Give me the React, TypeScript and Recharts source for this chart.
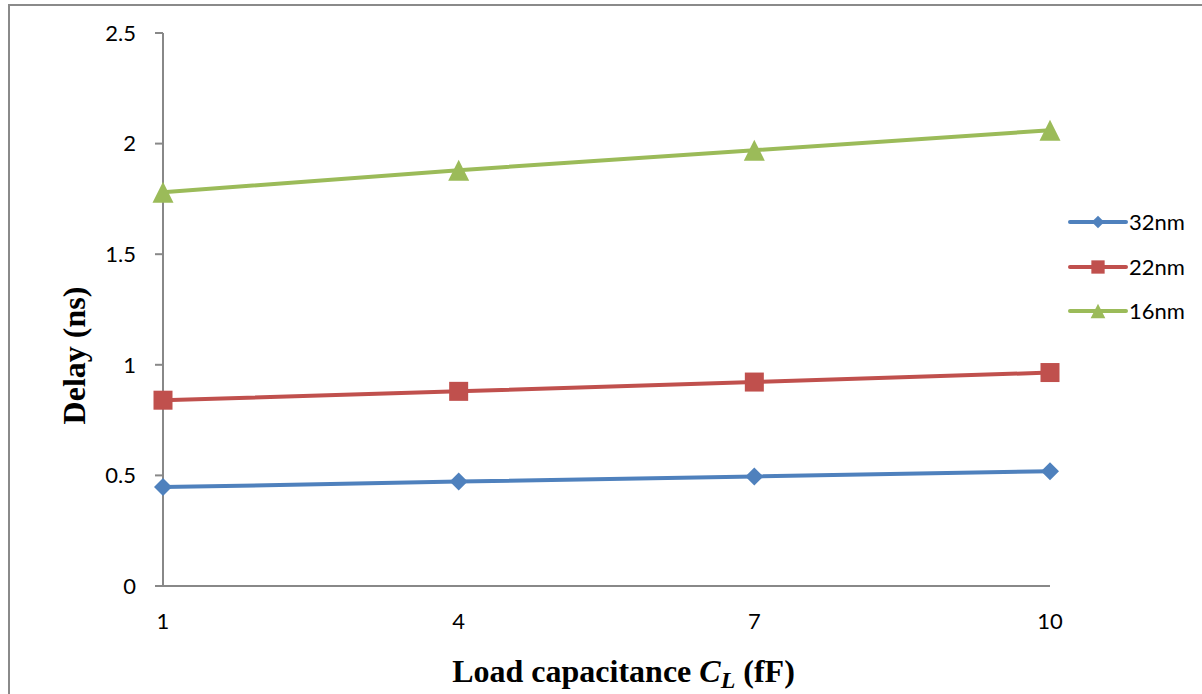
import React from 'react';
import { LineChart, Line, XAxis, YAxis, Legend, Label } from 'recharts';

// Load capacitance categories (fF)
const loads = ['1', '4', '7', '10'];
// Delay (ns) for each technology node
const delay32nm = [0.447, 0.472, 0.495, 0.519];
const delay22nm = [0.84, 0.88, 0.922, 0.965];
const delay16nm = [1.78, 1.88, 1.97, 2.06];
const delayTicks = [0, 0.5, 1, 1.5, 2, 2.5];

const seriesNames = ['32nm', '22nm', '16nm'];
const seriesKeys = ['n32', 'n22', 'n16'];
const seriesColors = ['#4F81BD', '#C0504D', '#9BBB59'];
const seriesShapes = ['diamond', 'square', 'triangle'];

const data = loads.map((load, i) => ({
  load,
  n32: delay32nm[i],
  n22: delay22nm[i],
  n16: delay16nm[i],
}));

const AXIS_COLOR = '#888888';
const TICK_FONT = 'Lato, "Open Sans", sans-serif';
const TICK_SIZE = 22;
const TITLE_FONT = '"Liberation Serif", "Times New Roman", serif';

function Marker({ shape, cx, cy, color }: { shape: string; cx: number; cy: number; color: string }) {
  if (cx == null || cy == null) return null;
  if (shape === 'diamond') {
    const r = 9;
    return <polygon points={`${cx},${cy - r} ${cx + r},${cy} ${cx},${cy + r} ${cx - r},${cy}`} fill={color} />;
  }
  if (shape === 'square') {
    const h = 9.5;
    return <rect x={cx - h} y={cy - h} width={h * 2} height={h * 2} fill={color} />;
  }
  const t = 10.5;
  return <polygon points={`${cx},${cy - t} ${cx + t},${cy + t} ${cx - t},${cy + t}`} fill={color} />;
}

function makeDot(idx: number) {
  return (p: any) => (
    <Marker key={`dot-${idx}-${p.index}`} shape={seriesShapes[idx]} cx={p.cx} cy={p.cy} color={seriesColors[idx]} />
  );
}

function LegendBox() {
  return (
    <div style={{ position: 'relative', width: 134 }}>
      {seriesNames.map((name, i) => (
        <div key={name} style={{ position: 'absolute', left: 0, top: i * 44.5, height: 24, display: 'flex', alignItems: 'center' }}>
          <svg width={60} height={24} style={{ display: 'block' }}>
            <line x1={2} y1={12} x2={58} y2={12} stroke={seriesColors[i]} strokeWidth={4} strokeLinecap="round" />
            <g transform="translate(30,12) scale(0.7) translate(-30,-12)">
              <Marker shape={seriesShapes[i]} cx={30} cy={12} color={seriesColors[i]} />
            </g>
          </svg>
          <span style={{ fontFamily: TICK_FONT, fontSize: TICK_SIZE, color: '#000', marginLeft: 1, lineHeight: '24px' }}>{name}</span>
        </div>
      ))}
    </div>
  );
}

function YTitle(props: any) {
  const vb = props.viewBox || { x: 0, y: 33, width: 163, height: 553 };
  const cx = vb.x + 85;
  const cy = vb.y + vb.height / 2 + 46;
  return (
    <text
      x={cx}
      y={cy}
      transform={`rotate(-90 ${cx} ${cy})`}
      textAnchor="middle"
      fontFamily={TITLE_FONT}
      fontWeight="bold"
      fontSize={32}
      fill="#000"
    >
      Delay (ns)
    </text>
  );
}

function XTitle(props: any) {
  const vb = props.viewBox || { x: 163, y: 586, width: 887, height: 108 };
  const cx = vb.x + vb.width / 2 + 17;
  const cy = vb.y + 96;
  return (
    <text x={cx} y={cy} textAnchor="middle" fontFamily={TITLE_FONT} fontWeight="bold" fontSize={32} fill="#000">
      <tspan>Load capacitance </tspan>
      <tspan fontStyle="italic">C</tspan>
      <tspan fontStyle="italic" fontSize={24} dy={6}>L</tspan>
      <tspan dy={-6}> (fF)</tspan>
    </text>
  );
}

export default function App() {
  return (
    <div style={{ position: 'fixed', left: 0, top: 0, width: 1202, height: 694, background: '#fff', overflow: 'hidden' }}>
      <div
        style={{
          position: 'absolute',
          left: 8,
          top: 4,
          width: 1300,
          height: 800,
          borderLeft: '2px solid #8a8a8a',
          borderTop: '2px solid #8a8a8a',
        }}
      />
      <div style={{ position: 'absolute', left: 0, top: 0 }}>
        <LineChart width={1202} height={694} data={data} margin={{ top: 33, right: 152, bottom: 0, left: 0 }}>
          <XAxis
            dataKey="load"
            height={108}
            padding={{ left: 0, right: 0 }}
            axisLine={{ stroke: AXIS_COLOR, strokeWidth: 2 }}
            tickLine={false}
            tickSize={0}
            tickMargin={27}
            tick={{ fill: '#000', fontSize: TICK_SIZE, fontFamily: TICK_FONT }}
            interval={0}
          >
            <Label content={<XTitle />} />
          </XAxis>
          <YAxis
            width={163}
            domain={[0, 2.5]}
            ticks={delayTicks}
            interval={0}
            axisLine={{ stroke: AXIS_COLOR, strokeWidth: 2 }}
            tickLine={{ stroke: AXIS_COLOR, strokeWidth: 2 }}
            tickSize={8}
            tickMargin={19}
            tick={{ fill: '#000', fontSize: TICK_SIZE, fontFamily: TICK_FONT }}
          >
            <Label content={<YTitle />} />
          </YAxis>
          <Legend
            layout="horizontal"
            verticalAlign="middle"
            align="center"
            content={() => <LegendBox />}
            wrapperStyle={{ position: 'absolute', left: 1068, top: 210, width: 134, height: 120 }}
          />
          {seriesKeys.map((key, i) => (
            <Line
              key={key}
              dataKey={key}
              name={seriesNames[i]}
              type="linear"
              stroke={seriesColors[i]}
              strokeWidth={4}
              dot={makeDot(i)}
              activeDot={false}
              isAnimationActive={false}
            />
          ))}
        </LineChart>
      </div>
    </div>
  );
}
